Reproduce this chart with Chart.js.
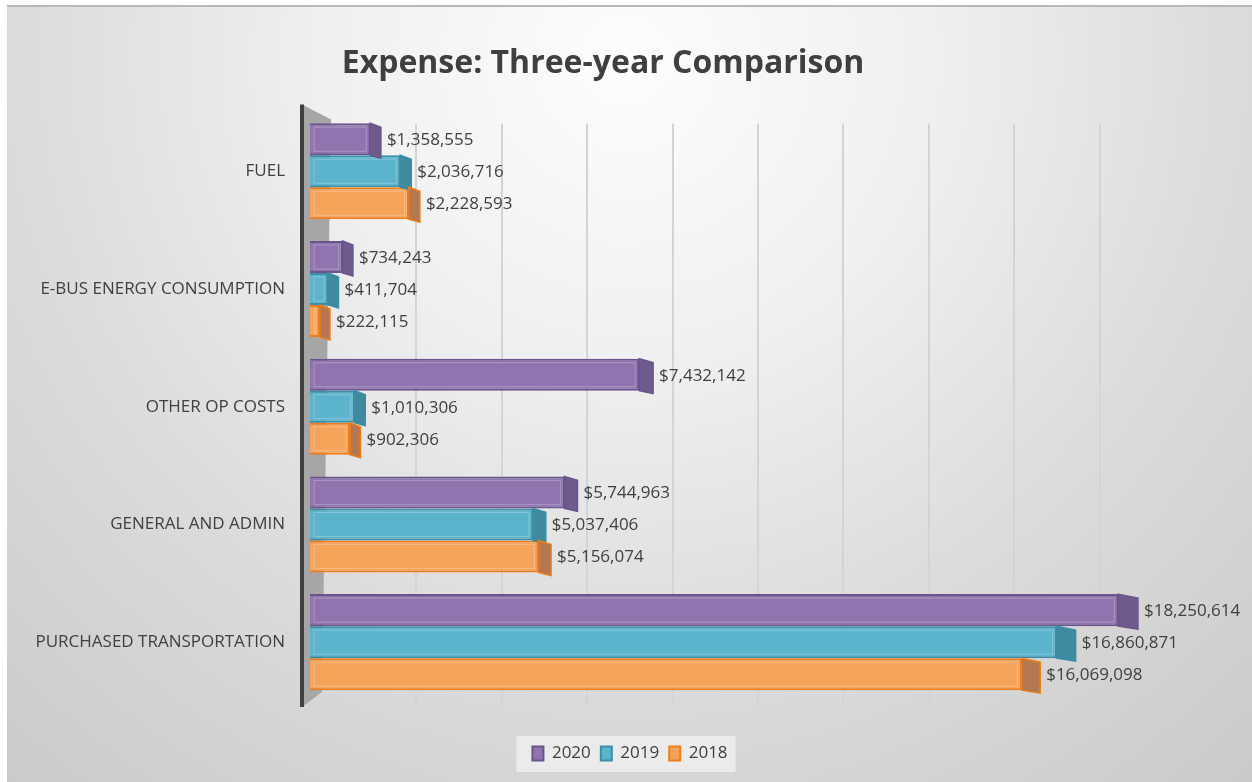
<!DOCTYPE html>
<html>
<head>
<meta charset="utf-8">
<title>Expense: Three-year Comparison</title>
<script src="https://cdn.jsdelivr.net/npm/chart.js@4.4.1/dist/chart.umd.min.js"></script>
<style>
  html, body { margin: 0; padding: 0; background: #fff; }
  #wrap { width: 1252px; height: 782px; }
</style>
</head>
<body>
<div id="wrap"><canvas id="myChart" width="1252" height="782"></canvas></div>
<script>
const categories = [
    'FUEL', 'E-BUS ENERGY CONSUMPTION', 'OTHER OP COSTS', 'GENERAL AND ADMIN', 'PURCHASED TRANSPORTATION'
];
const years = ['2020', '2019', '2018'];
const values2020 = [1358555, 734243, 7432142, 5744963, 18250614];
const values2019 = [2036716, 411704, 1010306, 5037406, 16860871];
const values2018 = [2228593, 222115, 902306, 5156074, 16069098];
const gridValues = [2000000, 4000000, 6000000, 8000000, 10000000, 12000000, 14000000, 16000000, 18000000];

const fillColors = ['#8f74af', '#5bb4cc', '#f6a45c'];
const edgeColors = ['#6a548c', '#3a8ea6', '#ee7c1a'];
const sideColors = ['#6e5a8c', '#3f8a9f', '#b47850'];

const money = v => '$' + v.toLocaleString('en-US');

// title sits a bit left of the legend in the original
const titleShift = {
    id: 'titleShift',
    afterLayout(chart) {
        chart.titleBlock.left -= 27;
        chart.titleBlock.right -= 27;
    }
};

// page background: white margin, grey radial frame
const backdrop = {
    id: 'backdrop',
    beforeDraw(chart) {
        const ctx = chart.ctx;
        ctx.save();
        ctx.fillStyle = '#ffffff';
        ctx.fillRect(0, 0, chart.width, chart.height);
        const g = ctx.createRadialGradient(626, 60, 0, 626, 60, 1000);
        g.addColorStop(0, '#fdfdfd');
        g.addColorStop(0.3, '#f0f0f0');
        g.addColorStop(0.6, '#dcdcdc');
        g.addColorStop(1, '#c8c8c8');
        ctx.fillStyle = g;
        ctx.fillRect(7, 5, chart.width - 7, chart.height - 5);
        ctx.fillStyle = '#b8b8b8';
        ctx.fillRect(7, 5, chart.width - 7, 2);
        // legend panel
        const boxes = chart.legend.legendHitBoxes;
        if (boxes && boxes.length) {
            const l = boxes[0].left - 16;
            const r = boxes[boxes.length - 1].left + boxes[boxes.length - 1].width + 8;
            const t = chart.legend.top + 1;
            const b = chart.legend.bottom;
            ctx.fillStyle = 'rgba(240,240,240,0.8)';
            ctx.fillRect(l, t, r - l, b - t);
        }
        ctx.restore();
    }
};

// grey side wall and back-wall gridlines of the 3D plot
const wall = {
    id: 'wall',
    beforeDatasetsDraw(chart) {
        const ctx = chart.ctx;
        const a = chart.chartArea;
        const back = chart.scales.x2;
        ctx.save();
        ctx.strokeStyle = '#d4d4d4';
        ctx.lineWidth = 2;
        gridValues.forEach(v => {
            const px = Math.round(back.getPixelForValue(v));
            ctx.beginPath();
            ctx.moveTo(px, a.top + 11);
            ctx.lineTo(px, a.bottom + 4);
            ctx.stroke();
        });

        const x0 = a.left - 8;
        ctx.fillStyle = '#a6a6a6';
        ctx.beginPath();
        ctx.moveTo(x0, a.top - 8);
        ctx.lineTo(x0 + 29, a.top + 7);
        ctx.lineTo(x0 + 20, a.bottom - 9);
        ctx.lineTo(x0, a.bottom + 6);
        ctx.closePath();
        ctx.fill();
        ctx.strokeStyle = '#404040';
        ctx.lineWidth = 4;
        ctx.beginPath();
        ctx.moveTo(x0, a.top - 8);
        ctx.lineTo(x0, a.bottom + 6);
        ctx.stroke();
        ctx.restore();
    }
};

// side faces and value labels
const barLabels = {
    id: 'barLabels',
    afterDatasetsDraw(chart) {
        const ctx = chart.ctx;
        const left = chart.chartArea.left;
        ctx.save();
        chart.data.datasets.forEach((ds, i) => {
            const meta = chart.getDatasetMeta(i);
            meta.data.forEach((bar, j) => {
                const h = bar.height;
                const top = bar.y - h / 2;
                const dx = 10 + (bar.x - left) * 0.012;
                ctx.fillStyle = sideColors[i];
                ctx.strokeStyle = edgeColors[i];
                ctx.lineWidth = 1.5;
                ctx.beginPath();
                ctx.moveTo(bar.x, top);
                ctx.lineTo(bar.x + dx, top + 4);
                ctx.lineTo(bar.x + dx, top + h + 3);
                ctx.lineTo(bar.x, top + h);
                ctx.closePath();
                ctx.fill();
                ctx.stroke();
                // light inner edge for a glassy look
                ctx.strokeStyle = 'rgba(255,255,255,0.25)';
                ctx.lineWidth = 1;
                ctx.strokeRect(bar.base + 4, top + 4, Math.max(bar.x - bar.base - 8, 0), h - 8);

                ctx.fillStyle = '#404040';
                ctx.font = '17px "Open Sans"';
                ctx.textAlign = 'left';
                ctx.textBaseline = 'middle';
                ctx.fillText(money(ds.data[j]), bar.x + dx + 6, bar.y + 1);
            });
        });
        ctx.restore();
    }
};

const data = {
    labels: categories,
    datasets: [{
        label: years[0],
        data: values2020,
        backgroundColor: fillColors[0],
        borderColor: edgeColors[0],
        borderWidth: 2,
    }, {
        label: years[1],
        data: values2019,
        backgroundColor: fillColors[1],
        borderColor: edgeColors[1],
        borderWidth: 2,
    }, {
        label: years[2],
        data: values2018,
        backgroundColor: fillColors[2],
        borderColor: edgeColors[2],
        borderWidth: 2,
    }]
};

const config = {
    type: 'bar',
    data: data,
    options: {
        indexAxis: 'y',
        responsive: false,
        animation: false,
        categoryPercentage: 0.816,
        barPercentage: 1.0,
        layout: {
            padding: { top: 7, left: 20, right: 12, bottom: 10 }
        },
        scales: {
            y: {
                grid: { display: false, drawTicks: false },
                border: { display: false },
                ticks: {
                    color: '#404040',
                    padding: 25,
                    font: { family: '"Open Sans"', size: 17 }
                },
                afterFit(scale) { scale.width = 290; }
            },
            x: {
                min: 0,
                max: 21000000,
                grid: { display: false },
                border: { display: false },
                ticks: { display: false },
                afterFit(scale) { scale.height = 34; }
            },
            x2: {
                axis: 'x',
                position: 'bottom',
                min: -492000,
                max: 21288000,
                border: { display: false },
                ticks: { display: false },
                grid: { display: false },
                afterFit(scale) { scale.height = 0; }
            }
        },
        plugins: {
            title: {
                display: true,
                text: 'Expense: Three-year Comparison',
                color: '#3f3f3f',
                font: { family: '"Open Sans"', size: 32, weight: 'bold' },
                padding: { top: 38, bottom: 29 }
            },
            legend: {
                position: 'bottom',
                labels: {
                    color: '#404040',
                    boxWidth: 11,
                    boxHeight: 14,
                    padding: 10,
                    font: { family: '"Open Sans"', size: 17 }
                }
            },
            tooltip: { enabled: false }
        }
    },
    plugins: [titleShift, backdrop, wall, barLabels]
};

const myChart = new Chart(
    document.getElementById('myChart'),
    config
);
</script>
</body>
</html>
